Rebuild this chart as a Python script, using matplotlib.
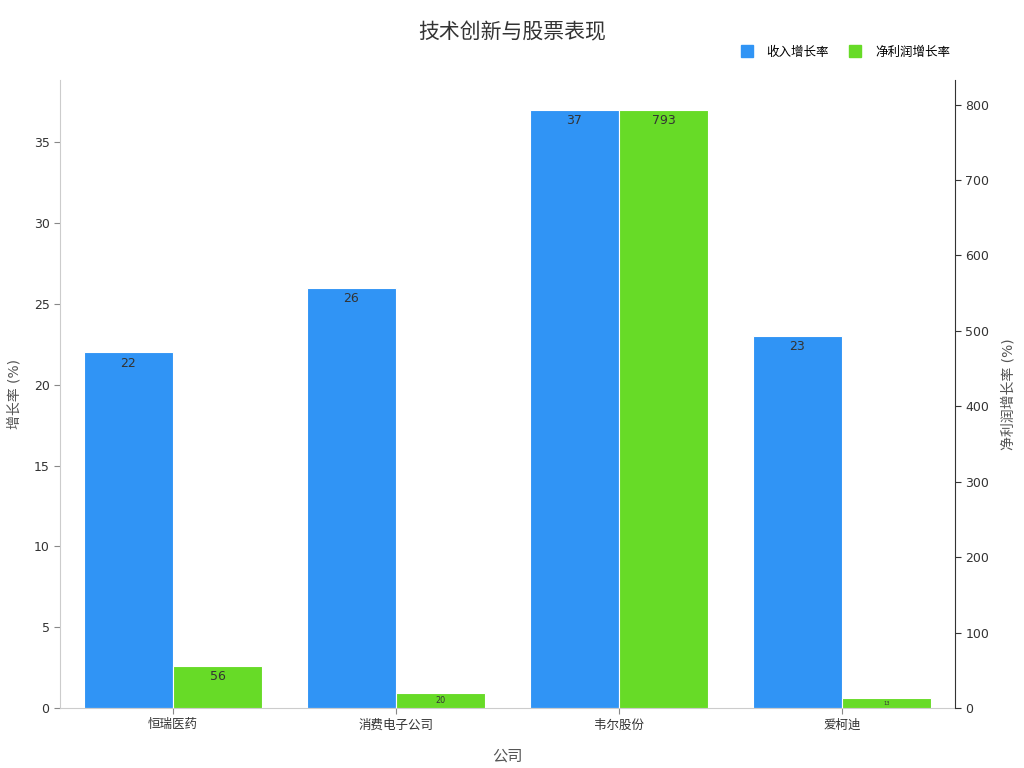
import matplotlib
matplotlib.use("Agg")
import numpy as np
import matplotlib.pyplot as plt
from matplotlib.lines import Line2D

plt.rcParams['font.family'] = ['DejaVu Sans', 'Noto Sans CJK SC']

companies = ['恒瑞医药', '消费电子公司', '韦尔股份', '爱柯迪']
revenue_growth = [22, 26, 37, 23]
profit_growth = [56, 20, 793, 13]

BLUE = '#3094F5'
GREEN = '#67DB27'
GRID_GRAY = '#cccccc'
TEXT_GRAY = '#555555'


def main():
    fig = plt.figure(figsize=(10.24, 7.68), dpi=100)
    ax = fig.add_axes([60 / 1024, 60 / 768, 895 / 1024, 628 / 768])
    ax2 = ax.twinx()

    x = np.arange(len(companies))
    w = 0.4
    b1 = ax.bar(x - w / 2, revenue_growth, w, color=BLUE, edgecolor='white', linewidth=0.8)
    b2 = ax2.bar(x + w / 2, profit_growth, w, color=GREEN, edgecolor='white', linewidth=0.8)

    ax.set_ylim(0, max(revenue_growth) * 1.05)
    ax2.set_ylim(0, max(profit_growth) * 1.05)
    ax.set_xlim(-0.507, len(companies) - 0.493)

    # value labels inside bars, shrink text for short bars
    def label(axis, bars, vals):
        fig.canvas.draw()
        for rect, v in zip(bars, vals):
            y0 = axis.transData.transform((0, 0))[1]
            y1 = axis.transData.transform((0, v))[1]
            hpx = y1 - y0
            cx = rect.get_x() + rect.get_width() / 2
            if hpx > 30:
                axis.annotate(f'{v}', (cx, v), xytext=(0, -3), textcoords='offset points',
                              ha='center', va='top', fontsize=9, color='#333333')
            else:
                axis.text(cx, v / 2, f'{v}', ha='center', va='center',
                          fontsize=max(hpx * 0.38, 3), color='#333333')

    label(ax, b1, revenue_growth)
    label(ax2, b2, profit_growth)

    ax.set_xticks(x)
    ax.set_xticklabels(companies, fontsize=9, color='#333333')
    ax.set_yticks(np.arange(0, 36, 5))
    ax2.set_yticks(np.arange(0, 801, 100))
    ax.tick_params(axis='y', labelsize=9, colors='#333333', color='#888888', length=4)
    ax2.tick_params(axis='y', labelsize=9, colors='#333333', color='#333333', length=4)
    ax.tick_params(axis='x', color='#888888', length=4)

    ax.set_xlabel('公司', fontsize=11, color=TEXT_GRAY, labelpad=12)
    ax.set_ylabel('增长率 (%)', fontsize=10, color=TEXT_GRAY, labelpad=9)
    ax2.set_ylabel('净利润增长率 (%)', fontsize=10, color=TEXT_GRAY, labelpad=9)

    for a in (ax, ax2):
        a.spines['top'].set_visible(False)
    ax.spines['left'].set_color(GRID_GRAY)
    ax.spines['bottom'].set_color(GRID_GRAY)
    ax.spines['right'].set_visible(False)
    ax2.spines['left'].set_visible(False)
    ax2.spines['bottom'].set_visible(False)
    ax2.spines['right'].set_color('#333333')

    fig.text(0.5, 0.958, '技术创新与股票表现', ha='center', va='center', fontsize=15, color='#333333')

    handles = [Line2D([], [], marker='s', linestyle='', markersize=8, color=BLUE),
               Line2D([], [], marker='s', linestyle='', markersize=8, color=GREEN)]
    fig.legend(handles, ['收入增长率', '净利润增长率'], loc='center right',
               bbox_to_anchor=(0.939, 0.932), ncol=2, frameon=False, fontsize=9,
               handletextpad=0.6, columnspacing=1.1)

    fig.savefig('out.png', dpi=100)


if __name__ == "__main__":
    main()
